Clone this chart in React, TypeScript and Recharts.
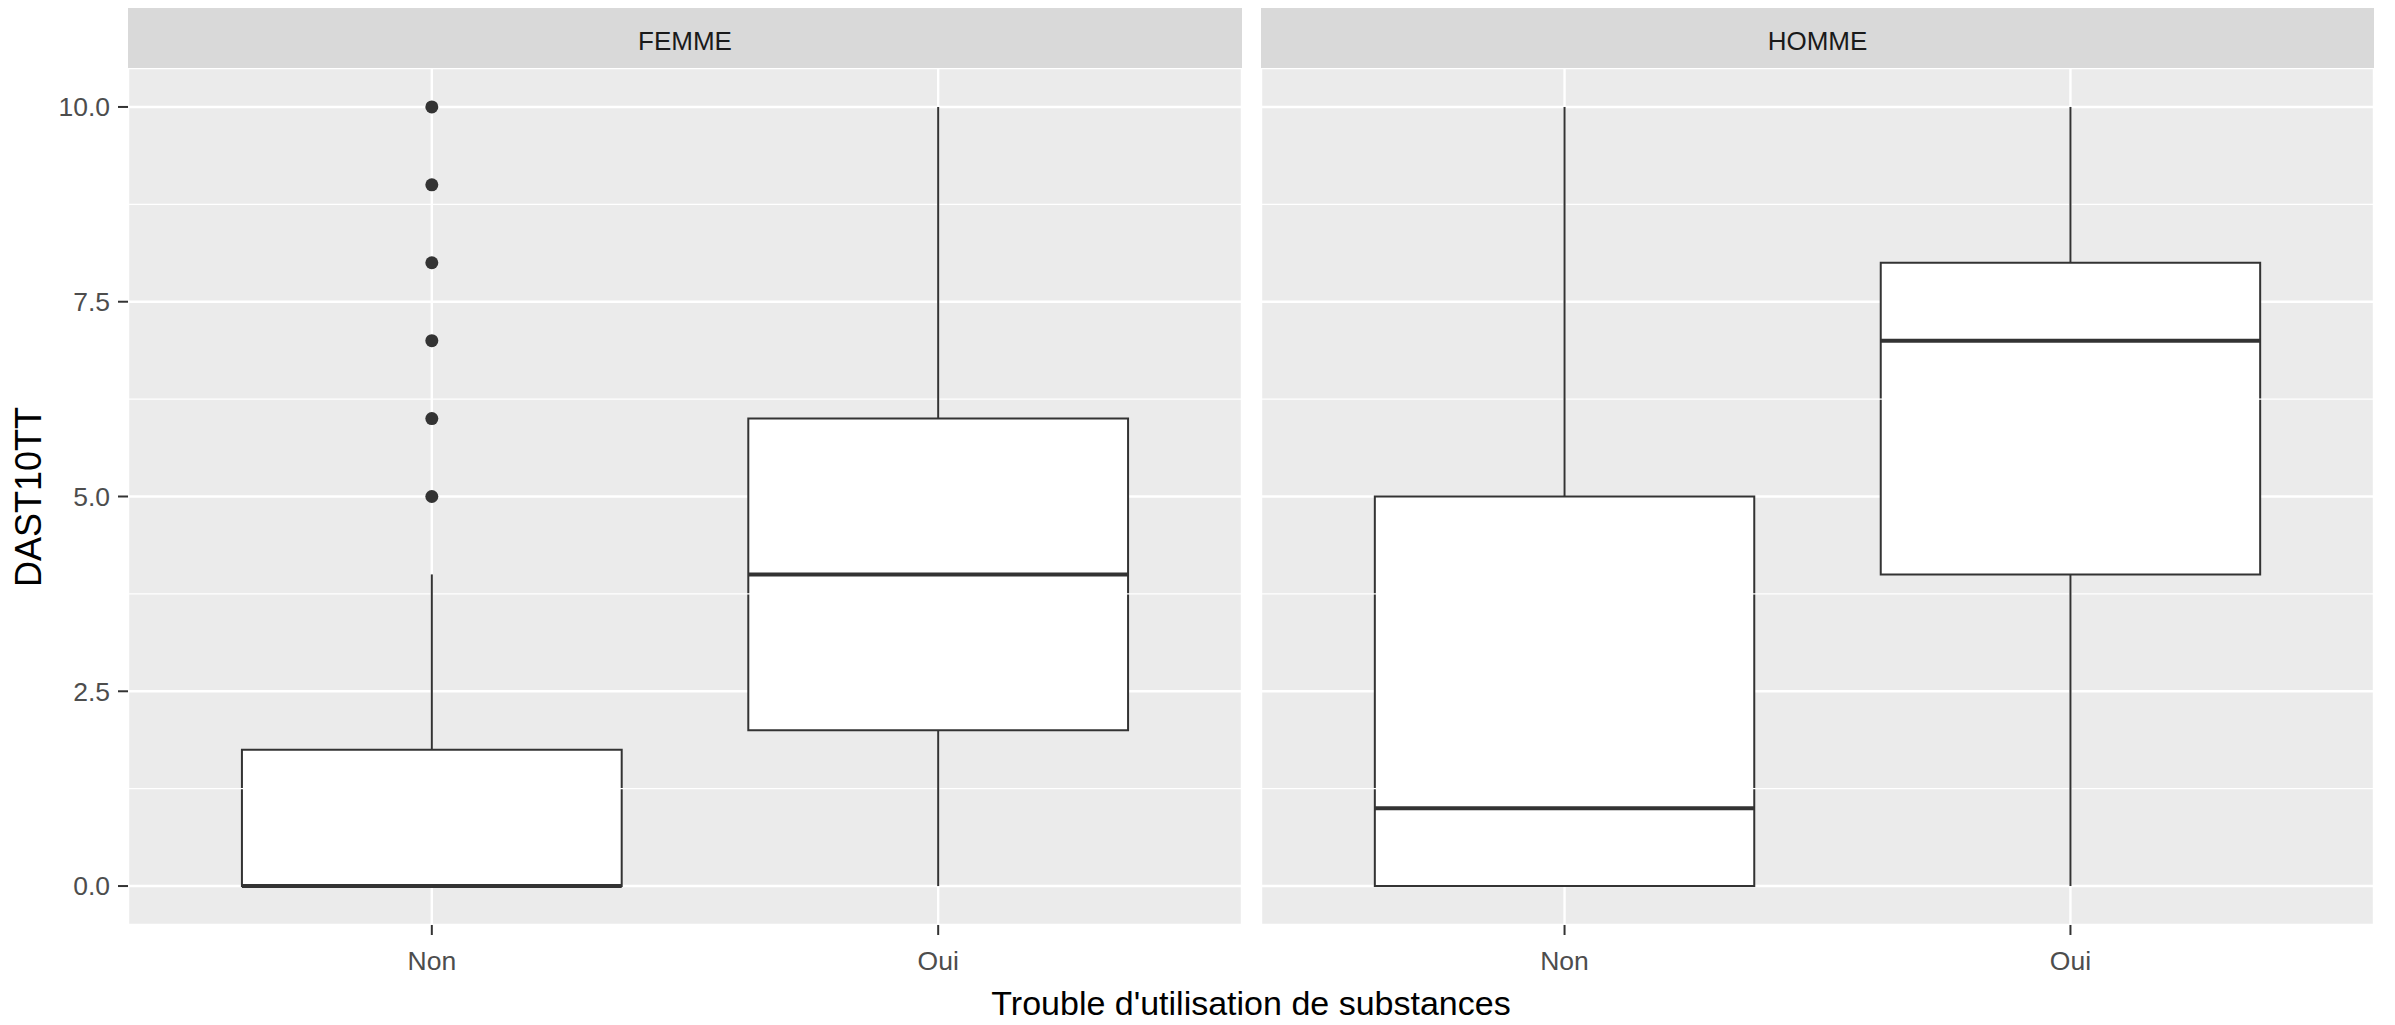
import React from 'react';
import {
  ComposedChart,
  XAxis,
  YAxis,
  CartesianGrid,
  ReferenceArea,
  ReferenceLine,
  Scatter,
} from 'recharts';

// ---------- data ----------
const categories = ['Non', 'Oui'];
const panelNames = ['FEMME', 'HOMME'];
const yTicks = [0, 2.5, 5, 7.5, 10];
const yMinorTicks = [1.25, 3.75, 6.25, 8.75];

// box statistics per category: [lower whisker, Q1, median, Q3, upper whisker]
const femmeNon = [0, 0, 0, 1.75, 4];
const femmeOui = [0, 2, 4, 6, 10];
const hommeNon = [0, 0, 1, 5, 10];
const hommeOui = [0, 4, 7, 8, 10];

const femmeNonOutliers = [5, 6, 7, 8, 9, 10];
const hommeNonOutliers: number[] = [];

const xTitle = "Trouble d'utilisation de substances";
const yTitle = 'DAST10TT';

// ---------- styling ----------
const FONT = '"Liberation Sans", Arial, Helvetica, sans-serif';
const LINE = '#333333';
const BOX_HALF = 0.375;

type Stats = number[];

function boxElements(stats: Stats, xi: number, key: string) {
  const [lo, q1, med, q3, hi] = stats;
  const els: React.ReactNode[] = [];
  if (hi > q3) {
    els.push(
      <ReferenceLine
        key={key + 'wu'}
        segment={[{ x: xi, y: q3 }, { x: xi, y: hi }]}
        stroke={LINE}
        strokeWidth={2}
        ifOverflow="visible"
      />
    );
  }
  if (lo < q1) {
    els.push(
      <ReferenceLine
        key={key + 'wl'}
        segment={[{ x: xi, y: lo }, { x: xi, y: q1 }]}
        stroke={LINE}
        strokeWidth={2}
        ifOverflow="visible"
      />
    );
  }
  els.push(
    <ReferenceArea
      key={key + 'box'}
      x1={xi - BOX_HALF}
      x2={xi + BOX_HALF}
      y1={q1}
      y2={q3}
      fill="#FFFFFF"
      fillOpacity={1}
      stroke={LINE}
      strokeWidth={2}
      ifOverflow="visible"
    />
  );
  els.push(
    <ReferenceLine
      key={key + 'med'}
      segment={[{ x: xi - BOX_HALF, y: med }, { x: xi + BOX_HALF, y: med }]}
      stroke={LINE}
      strokeWidth={4}
      ifOverflow="visible"
    />
  );
  return els;
}

const Dot = (props: any) => {
  const { cx, cy } = props;
  if (cx == null || cy == null) return null;
  return <circle cx={cx} cy={cy} r={6.5} fill={LINE} />;
};

function Panel({
  width,
  showY,
  stats,
  outliers,
  marginRight,
}: {
  width: number;
  showY: boolean;
  stats: Stats[];
  outliers: number[];
  marginRight: number;
}) {
  const outlierData = outliers.map((v) => ({ x: categories.indexOf('Non') + 1, y: v }));
  return (
    <ComposedChart
      width={width}
      height={1025}
      margin={{ top: 68, right: marginRight, bottom: 40, left: 0 }}
      data={outlierData}
    >
      <CartesianGrid
        fill="#EBEBEB"
        fillOpacity={1}
        stroke="#FFFFFF"
        strokeWidth={2.4}
        horizontal={true}
        vertical={true}
      />
      <XAxis
        type="number"
        dataKey="x"
        domain={[0.4, 2.6]}
        ticks={[1, 2]}
        allowDataOverflow
        tickFormatter={(v: number) => categories[v - 1]}
        height={60}
        axisLine={false}
        tickSize={10}
        tickMargin={16}
        tickLine={{ stroke: LINE, strokeWidth: 2 }}
        tick={{ fill: '#4D4D4D', fontSize: 26.5, fontFamily: FONT }}
      />
      <YAxis
        type="number"
        dataKey="y"
        domain={[-0.5, 10.5]}
        ticks={yTicks}
        allowDataOverflow
        hide={!showY}
        width={128}
        axisLine={false}
        tickSize={10}
        tickMargin={8}
        tickLine={{ stroke: LINE, strokeWidth: 2 }}
        tickFormatter={(v: number) => v.toFixed(1)}
        tick={{ fill: '#4D4D4D', fontSize: 26.5, fontFamily: FONT }}
      />
      {yMinorTicks.map((v) => (
        <ReferenceLine key={'m' + v} y={v} stroke="#FFFFFF" strokeWidth={1.2} />
      ))}
      {stats.map((s, i) => boxElements(s, i + 1, 'b' + i))}
      <Scatter
        data={outlierData}
        dataKey="y"
        shape={<Dot />}
        isAnimationActive={false}
      />
    </ComposedChart>
  );
}

export default function App() {
  const stripStyle: React.CSSProperties = {
    position: 'absolute',
    top: 8,
    height: 60,
    background: '#D9D9D9',
    display: 'flex',
    alignItems: 'center',
    justifyContent: 'center',
    fontFamily: FONT,
    fontSize: 26,
    color: '#1A1A1A',
    boxSizing: 'border-box',
    paddingTop: 7,
  };
  return (
    <div
      style={{
        position: 'absolute',
        left: 0,
        top: 0,
        width: 2395,
        height: 1025,
        background: '#FFFFFF',
        overflow: 'hidden',
      }}
    >
      <div style={{ position: 'absolute', left: 0, top: 0 }}>
        <Panel width={1250} showY={true} stats={[femmeNon, femmeOui]} outliers={femmeNonOutliers} marginRight={8} />
      </div>
      <div style={{ position: 'absolute', left: 1261, top: 0 }}>
        <Panel width={1134} showY={false} stats={[hommeNon, hommeOui]} outliers={hommeNonOutliers} marginRight={21} />
      </div>
      <div style={{ ...stripStyle, left: 128, width: 1114 }}>{panelNames[0]}</div>
      <div style={{ ...stripStyle, left: 1261, width: 1113 }}>{panelNames[1]}</div>
      <div
        style={{
          position: 'absolute',
          left: 0,
          width: 2502,
          top: 983,
          height: 40,
          lineHeight: '40px',
          textAlign: 'center',
          fontFamily: FONT,
          fontSize: 34,
          color: '#000000',
        }}
      >
        {xTitle}
      </div>
      <div
        style={{
          position: 'absolute',
          left: 29 - 150,
          top: 497 - 20,
          width: 300,
          height: 40,
          lineHeight: '40px',
          textAlign: 'center',
          transform: 'rotate(-90deg)',
          fontFamily: FONT,
          fontSize: 36,
          color: '#000000',
        }}
      >
        {yTitle}
      </div>
    </div>
  );
}
